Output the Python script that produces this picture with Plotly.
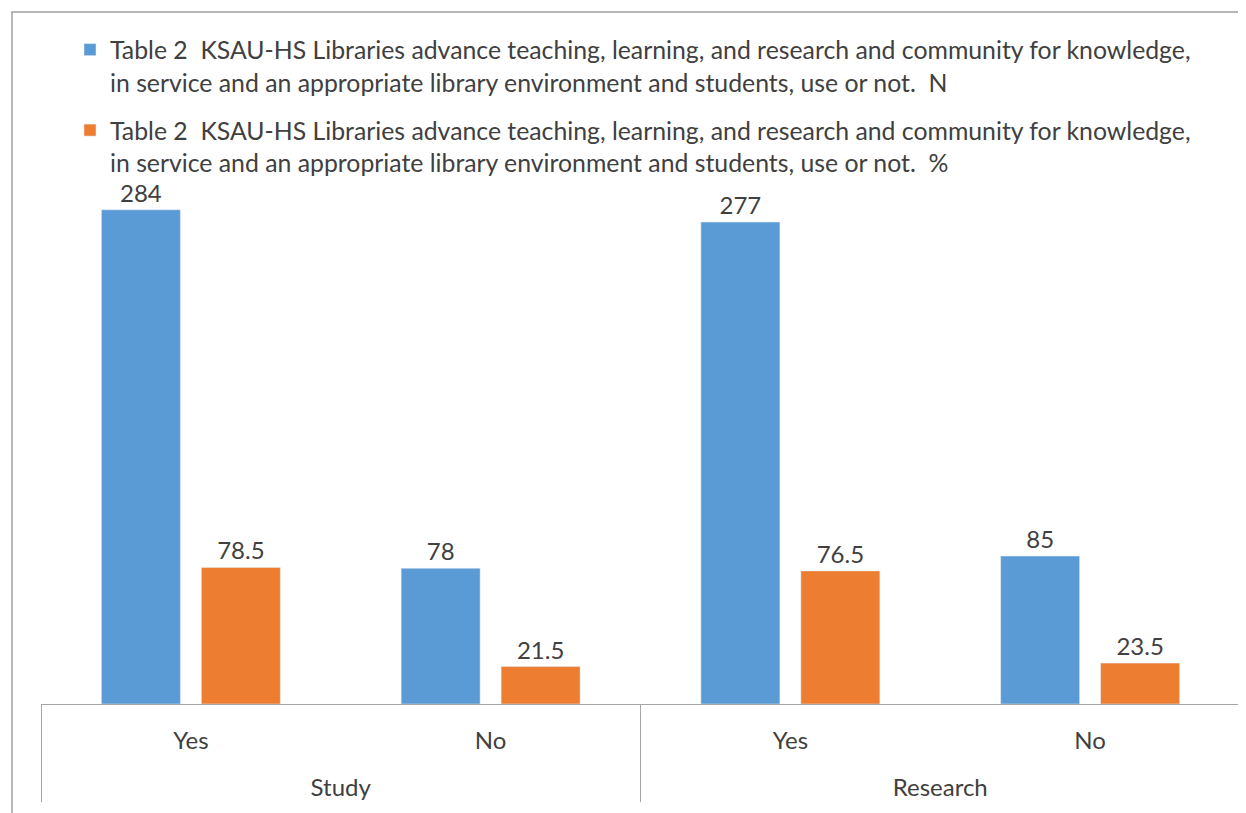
import plotly.graph_objects as go

groups = ["Study", "Study", "Research", "Research"]
answers = ["Yes", "No", "Yes", "No"]
n_values = [284, 78, 277, 85]
pct_values = [78.5, 21.5, 76.5, 23.5]
name_n = ("Table 2  KSAU-HS Libraries advance teaching, learning, and research and community for knowledge,"
          "<br>in service and an appropriate library environment and students, use or not.  N")
name_pct = ("Table 2  KSAU-HS Libraries advance teaching, learning, and research and community for knowledge,"
            "<br>in service and an appropriate library environment and students, use or not.  %")

FONT = "Lato"
FS = 24
TXT = "#404040"

# second-level labels pushed down one line to sit lower, as in the reference
x_cats = [["<br>" + g for g in groups], answers]

fig = go.Figure()
fig.add_trace(go.Bar(x=x_cats, y=n_values, name=name_n, marker_color="#5B9BD5",
                     text=[str(v) for v in n_values], textposition="outside", cliponaxis=False,
                     textfont=dict(family=FONT, size=FS, color=TXT), legendgroup="a"))
fig.add_trace(go.Bar(x=x_cats, y=pct_values, name=name_pct, marker_color="#ED7D31",
                     text=[str(v) for v in pct_values], textposition="outside", cliponaxis=False,
                     textfont=dict(family=FONT, size=FS, color=TXT), legendgroup="b"))

# the page body adds an 8px offset; work in reference pixels and shift
OFF = 8
W, H = 1246 - OFF, 813 - OFF
L, R, T, B = 41 - OFF, 6, 182 - OFF, 813 - 704
pw, ph = W - L - R, H - T - B

def px(x):
    return (x - OFF - L) / pw

def py(y):
    return (H - B - (y - OFF)) / ph

fig.update_layout(
    width=W, height=H,
    margin=dict(l=L, r=R, t=T, b=B, autoexpand=False),
    paper_bgcolor="white", plot_bgcolor="white",
    barmode="group", bargap=0.333, bargroupgap=0.21,
    font=dict(family=FONT, size=FS, color=TXT),
    showlegend=True,
    legend=dict(x=px(70), y=py(27), xanchor="left", yanchor="top", valign="top",
                font=dict(family=FONT, size=24.8, color=TXT), tracegroupgap=13,
                bgcolor="rgba(0,0,0,0)"),
    xaxis=dict(type="multicategory", showline=True, linecolor="#A6A6A6", linewidth=1,
               showdividers=True, dividercolor="#A6A6A6", dividerwidth=1, automargin=False,
               ticklabelstandoff=15,
               tickfont=dict(family=FONT, size=FS, color=TXT), ticks=""),
    yaxis=dict(range=[0, 300], visible=False, showgrid=False, zeroline=False),
    shapes=[dict(type="rect", xref="paper", yref="paper",
                 x0=px(12), x1=px(1252), y0=py(830), y1=py(12),
                 line=dict(color="#A0A0A0", width=1.5), fillcolor="rgba(0,0,0,0)", layer="below")],
)

fig.write_html("out.html")
